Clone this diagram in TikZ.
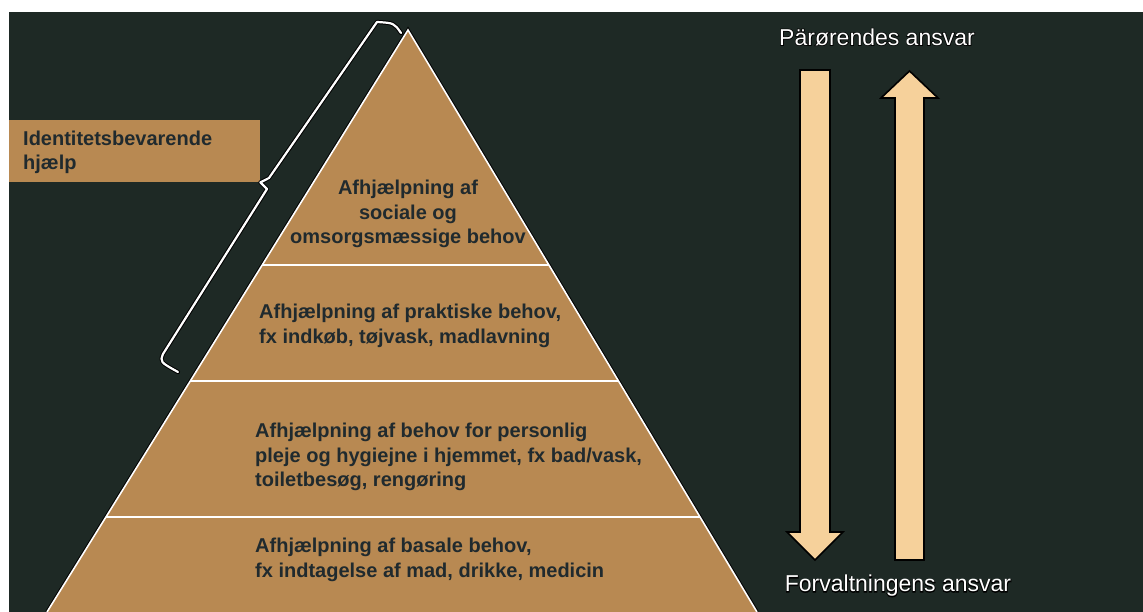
\documentclass[tikz,border=0pt]{standalone}
\usepackage{fontspec}
\setmainfont{Liberation Sans}
\newfontfamily\haloface[FakeBold=6]{Liberation Sans}
\usetikzlibrary{calc}

\definecolor{bgdark}{RGB}{30,41,37}
\definecolor{tierfill}{RGB}{184,137,82}
\definecolor{inktext}{RGB}{32,42,46}
\definecolor{arrowfill}{RGB}{246,209,155}

\begin{document}
\begin{tikzpicture}[x=1pt,y=-1pt,
  tiertext/.style={text=inktext, font=\bfseries\fontsize{20}{24.5}\selectfont,
    align=left, inner sep=0pt, anchor=west},
  sidelabel/.style={font=\fontsize{23}{27}\selectfont, inner sep=0pt, text=white},
  sidehalo/.style={font=\haloface\fontsize{23}{27}\selectfont, inner sep=0pt, text=black},
  edgeline/.style={white, line width=1.6pt},
  bigarrow/.style={fill=arrowfill, draw=black, line width=1.6pt, line join=miter}]

\useasboundingbox (0,0) rectangle (1143,612);
\fill[white] (0,0) rectangle (1143,612);
\fill[bgdark] (9,12) rectangle (1143,612);

% pyramid
\coordinate (apex) at (408,30);
\coordinate (bl) at (47,612);
\coordinate (br) at (757,612);
\draw[black, line width=3.6pt, line join=miter] (bl) -- (apex) -- (br);
\fill[tierfill] (apex) -- (bl) -- (br) -- cycle;
\draw[edgeline, line join=miter] (bl) -- (apex) -- (br);

% dividers between the tiers
\foreach \t/\n in {0.4038/dA, 0.6031/dB, 0.8368/dC}{
  \coordinate (\n l) at ($(apex)!\t!(bl)$);
  \coordinate (\n r) at ($(apex)!\t!(br)$);
  \draw[edgeline, line width=1.4pt] (\n l) -- (\n r);
}

% tier texts
\node[tiertext, align=center, anchor=center] (tierA) at (408,214)
  {Afhjælpning af\\sociale og\\omsorgsmæssige behov};
\node[tiertext] (tierB) at (259,326)
  {Afhjælpning af praktiske behov,\\fx indkøb, tøjvask, madlavning};
\node[tiertext] (tierC) at (255,457)
  {Afhjælpning af behov for personlig\\pleje og hygiejne i hjemmet, fx bad/vask,\\toiletbesøg, rengøring};
\node[tiertext] (tierD) at (255,560)
  {Afhjælpning af basale behov,\\fx indtagelse af mad, drikke, medicin};

% side box
\node[fill=tierfill, anchor=north west, minimum width=251pt, minimum height=62pt,
  inner sep=0pt] (idbox) at (9,120) {};
\node[tiertext] (idtext) at (23,152.5) {Identitetsbevarende\\hjælp};

% brace around the two upper tiers
\draw[draw=black, line width=1pt, double=white, double distance=2.2pt,
  line join=round, line cap=round]
  (401,33) .. controls (394,23) .. (377,22) -- (269,178) -- (idbox.south east)
  -- (267,189) -- (163,354) .. controls (160,362) .. (178,372);

% responsibility arrows
\draw[bigarrow] (800,70) -- (830,70) -- (830,532) -- (843,532) -- (815,560)
  -- (787,532) -- (800,532) -- cycle;
\draw[bigarrow] (895,560) -- (895,98) -- (881,98) -- (909.5,71) -- (938,98)
  -- (924,98) -- (924,560) -- cycle;

% outlined labels: a thickened black copy under the white text
\node[sidehalo] (tophalo) at (877,37) {Pärørendes ansvar};
\node[sidelabel] (toplabel) at (877,37) {Pärørendes ansvar};
\node[sidehalo] (bottomhalo) at (898,586) {Forvaltningens ansvar};
\node[sidelabel] (bottomlabel) at (898,586) {Forvaltningens ansvar};
\end{tikzpicture}
\end{document}
